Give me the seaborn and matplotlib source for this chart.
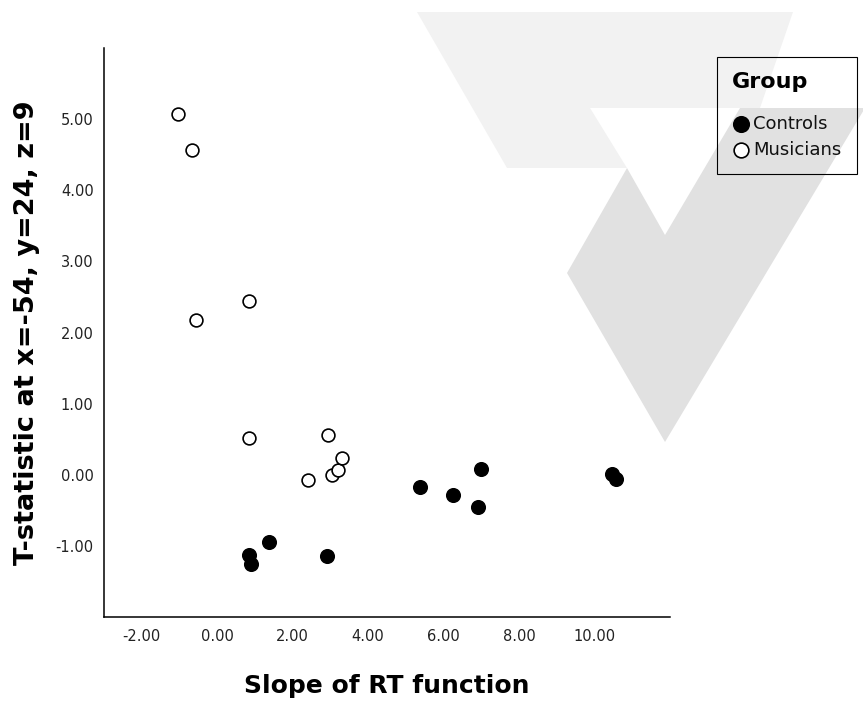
import pandas as pd
import numpy as np
import matplotlib
matplotlib.use("Agg")
import matplotlib.pyplot as plt
import seaborn as sns
from matplotlib.patches import Polygon
from matplotlib.transforms import Affine2D

# values
musicians_x = [-1.03, -0.66, -0.56, 0.85, 0.85, 2.94, 2.41, 3.04, 3.20, 3.31]
musicians_y = [5.07, 4.56, 2.17, 2.44, 0.51, 0.56, -0.08, 0.00, 0.07, 0.23]
controls_x = [0.85, 0.90, 1.38, 2.91, 5.37, 6.24, 6.98, 6.90, 10.45, 10.58]
controls_y = [-1.13, -1.25, -0.94, -1.14, -0.17, -0.28, 0.08, -0.45, 0.01, -0.06]

x_ticks = [-2, 0, 2, 4, 6, 8, 10]
y_ticks = [-1, 0, 1, 2, 3, 4, 5]

controls = pd.DataFrame({"slope": controls_x, "tstat": controls_y, "Group": "Controls"})
musicians = pd.DataFrame({"slope": musicians_x, "tstat": musicians_y, "Group": "Musicians"})

sns.set_style("white")
plt.rcParams["font.family"] = ["DejaVu Sans"]
plt.rcParams["text.color"] = "black"
plt.rcParams["axes.labelcolor"] = "black"

W, H = 863, 706
fig = plt.figure(figsize=(W / 100, H / 100), dpi=100)
ax = fig.add_axes([104 / W, 1 - 617 / H, (670 - 104) / W, (617 - 48) / H])
ax.set_facecolor("none")

# faint logo watermark behind the plot (pixel coords of the picture)
px = Affine2D().scale(1 / W, -1 / H).translate(0, 1) + fig.transFigure
light = [(417, 12), (793, 12), (760, 108), (590, 108), (627, 168), (507, 168)]
dark = [(567, 273), (627, 168), (665, 235), (740, 108), (865, 108), (665, 442)]
fig.add_artist(Polygon(light, closed=True, facecolor="#f2f2f2", edgecolor="none",
                       transform=px, zorder=-2))
fig.add_artist(Polygon(dark, closed=True, facecolor="#e1e1e1", edgecolor="none",
                       transform=px, zorder=-2))

sns.scatterplot(data=controls, x="slope", y="tstat", ax=ax, s=95,
                color="black", edgecolor="black", linewidth=1.1, label="Controls")
sns.scatterplot(data=musicians, x="slope", y="tstat", ax=ax, s=85,
                facecolor="white", edgecolor="black", linewidth=1.2, label="Musicians")

ax.set_xlim(-3, 12)
ax.set_ylim(-2, 6)
ax.set_xticks(x_ticks)
ax.set_yticks(y_ticks)
ax.set_xticklabels([f"{v:.2f}" for v in x_ticks])
ax.set_yticklabels([f"{v:.2f}" for v in y_ticks])
ax.tick_params(axis="both", direction="out", length=4.5, width=1.8, color="black",
               labelsize=10.5, labelcolor="#222222")
ax.tick_params(axis="x", pad=4)
ax.tick_params(axis="y", pad=3)

sns.despine(ax=ax)
for side in ["left", "bottom"]:
    ax.spines[side].set_color("black")
    ax.spines[side].set_linewidth(1.1)

ax.set_xlabel("Slope of RT function", fontsize=18, fontweight="bold", labelpad=22)
ax.set_ylabel("T-statistic at x=-54, y=24, z=9", fontsize=19.5, fontweight="bold", labelpad=11)

leg = ax.legend(loc="upper left", bbox_to_anchor=(717 / W, 1 - 57 / H),
                bbox_transform=fig.transFigure, title="Group", fontsize=13,
                title_fontproperties={"weight": "bold", "size": 16},
                alignment="left", frameon=True, fancybox=False, framealpha=1,
                handletextpad=0.15, handlelength=1.0, borderpad=0.85,
                labelspacing=0.45, borderaxespad=0, markerscale=1.15)
leg._legend_box.sep = 16
leg.get_frame().set_edgecolor("black")
leg.get_frame().set_linewidth(0.8)
leg.get_frame().set_facecolor("none")
for t in leg.get_texts():
    t.set_color("#111111")

fig.savefig("out.png", dpi=100)
